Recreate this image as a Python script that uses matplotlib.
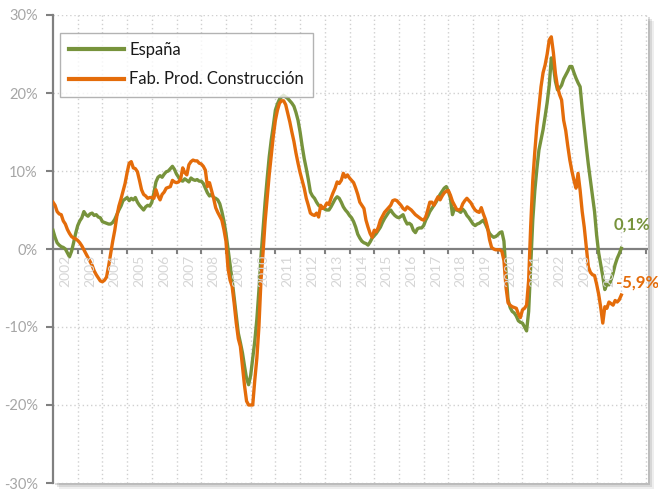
import matplotlib
matplotlib.use('Agg')
import matplotlib.pyplot as plt
import pandas as pd
from matplotlib.patches import Rectangle

# ---------------- data ----------------
months = pd.date_range('2002-01-01', '2025-01-01', freq='MS')

espana = [
    2.4, 1.5, 0.8, 0.5, 0.3, 0.2, 0.0, -0.5, -1.0, -0.3, 0.8, 2.0,          # 2002
    3.0, 3.6, 4.0, 4.8, 4.4, 4.2, 4.5, 4.6, 4.3, 4.4, 4.1, 4.0,             # 2003
    3.5, 3.4, 3.3, 3.2, 3.2, 3.4, 3.8, 4.4, 5.0, 5.5, 6.2, 6.4,             # 2004
    6.6, 6.2, 6.5, 6.3, 6.6, 6.0, 5.6, 5.3, 5.0, 5.4, 5.6, 5.5,             # 2005
    6.0, 7.2, 8.6, 9.2, 9.4, 9.2, 9.6, 9.9, 10.0, 10.3, 10.6, 10.2,         # 2006
    9.6, 9.2, 8.8, 8.7, 9.0, 8.8, 8.6, 9.1, 8.9, 8.8, 8.9, 8.7,             # 2007
    8.7, 8.4, 7.8, 7.2, 6.8, 7.0, 6.6, 6.5, 6.3, 5.8, 4.8, 3.6,             # 2008
    2.0, 0.0, -2.0, -4.0, -6.3, -8.5, -10.8, -12.0, -13.3, -15.0, -16.6, -17.4,  # 2009
    -16.2, -14.0, -11.8, -9.0, -5.3, -1.0, 2.5, 6.0, 9.0, 11.8, 14.0, 15.8,  # 2010
    17.8, 18.6, 19.2, 19.5, 19.7, 19.5, 19.3, 19.0, 18.7, 18.3, 17.5, 16.5,  # 2011
    15.0, 13.2, 11.6, 10.3, 8.9, 7.3, 6.8, 6.5, 6.0, 5.6, 5.4, 5.3,         # 2012
    5.1, 5.0, 5.0, 5.4, 5.9, 6.4, 6.7, 6.5, 6.0, 5.4, 5.0, 4.7,             # 2013
    4.3, 4.0, 3.5, 2.8, 1.9, 1.4, 1.0, 0.8, 0.7, 0.5, 0.9, 1.4,             # 2014
    1.7, 2.0, 2.4, 2.8, 3.4, 3.9, 4.3, 4.7, 5.0, 4.6, 4.3, 4.1,             # 2015
    4.0, 4.2, 4.4, 3.7, 3.2, 3.3, 3.1, 2.4, 2.1, 2.6, 2.7, 2.7,             # 2016
    3.0, 3.7, 4.2, 4.8, 5.2, 5.6, 6.0, 6.5, 7.0, 7.4, 7.8, 8.0,             # 2017
    7.4, 6.5, 4.4, 5.2, 5.0, 4.9, 4.7, 5.1, 4.8, 4.3, 4.0, 3.6,             # 2018
    3.2, 3.0, 3.2, 3.3, 3.5, 3.7, 3.2, 2.6, 2.0, 1.7, 1.5, 1.6,             # 2019
    1.8, 2.1, 2.2, 1.0, -3.1, -6.5, -7.5, -8.0, -8.2, -8.6, -9.2, -9.4,     # 2020
    -9.5, -10.0, -10.5, -8.0, -2.0, 3.7, 7.5, 10.3, 12.7, 14.0, 15.3, 17.0,  # 2021
    18.8, 21.0, 24.5, 23.5, 21.5, 20.4, 20.6, 21.0, 21.8, 22.3, 22.8, 23.4,  # 2022
    23.4, 22.6, 21.9, 21.3, 20.8, 18.0, 15.5, 13.1, 10.8, 8.8, 6.8, 4.8,    # 2023
    1.8, -0.5, -2.0, -3.5, -5.2, -4.5, -4.6, -4.0, -3.1, -2.0, -1.2, -0.6,  # 2024
    0.1,                                                                    # 2025
]

fab_prod = [
    6.0, 5.6, 4.8, 4.5, 4.4, 3.6, 3.2, 2.5, 2.0, 1.6, 1.4, 1.3,             # 2002
    1.1, 0.8, 0.4, -0.1, -0.6, -1.1, -1.6, -2.1, -2.8, -3.3, -3.7, -4.1,    # 2003
    -4.2, -4.0, -3.6, -2.2, -0.6, 1.0, 2.4, 4.2, 5.5, 6.4, 7.4, 8.4,        # 2004
    9.8, 11.0, 11.2, 10.4, 10.3, 9.9, 8.8, 7.6, 7.0, 6.8, 6.5, 6.6,         # 2005
    6.6, 6.5, 7.6, 6.8, 6.3, 7.0, 7.3, 7.8, 7.9, 8.0, 8.8, 8.6,             # 2006
    8.5, 8.6, 9.0, 10.4, 9.8, 9.5, 10.8, 11.2, 11.4, 11.3, 11.3, 11.0,      # 2007
    10.9, 10.6, 10.1, 8.0, 8.5, 7.5, 6.5, 5.3, 4.7, 4.2, 3.7, 2.5,          # 2008
    1.0, -2.5, -4.0, -4.8, -7.0, -9.5, -11.5, -12.5, -15.0, -17.5, -19.5, -20.0,  # 2009
    -20.0, -20.0, -16.8, -14.0, -10.0, -4.0, -0.5, 3.5, 6.5, 9.5, 12.0, 14.5,  # 2010
    16.5, 17.8, 18.7, 19.0, 19.0, 18.5, 17.4, 16.3, 15.0, 13.8, 12.3, 11.0,  # 2011
    9.8, 8.8, 7.8, 6.5, 5.6, 4.6, 4.4, 4.3, 4.6, 4.1, 5.6, 5.2,             # 2012
    5.4, 5.9, 5.7, 6.5, 7.2, 7.8, 8.6, 8.4, 8.8, 9.7, 9.2, 9.5,             # 2013
    9.1, 8.8, 8.5, 7.8, 7.0, 6.0, 5.6, 5.2, 3.7, 2.8, 2.0, 1.5,             # 2014
    2.4, 2.2, 2.8, 3.7, 4.2, 4.7, 5.0, 5.3, 5.6, 6.2, 6.3, 6.2,             # 2015
    5.9, 5.6, 5.2, 5.0, 5.4, 5.2, 5.0, 4.7, 4.4, 4.2, 4.0, 3.8,             # 2016
    3.7, 4.1, 5.0, 6.0, 6.0, 5.6, 6.2, 6.7, 6.3, 6.8, 7.2, 7.4,             # 2017
    7.5, 6.9, 6.1, 5.6, 5.1, 5.0, 5.1, 5.8, 6.2, 6.5, 6.2, 5.9,             # 2018
    5.4, 5.0, 4.8, 4.7, 5.3, 4.5, 3.8, 2.8, 1.2, 0.2, 0.0, -0.1,            # 2019
    -0.1, -0.1, -0.3, -1.5, -4.9, -6.9, -7.2, -7.4, -7.5, -7.6, -8.3, -8.8,  # 2020
    -7.8, -7.6, -7.2, -4.0, 3.0, 8.8, 12.5, 15.8, 18.2, 20.8, 22.6, 23.6,   # 2021
    25.0, 26.8, 27.2, 25.2, 22.5, 20.8, 19.8, 19.1, 16.5, 15.2, 13.2, 11.4,  # 2022
    10.0, 8.8, 7.8, 9.7, 7.5, 4.8, 2.8, 0.3, -2.3, -3.0, -3.3, -3.4,        # 2023
    -4.5, -5.8, -7.5, -9.5, -7.4, -7.6, -6.8, -7.0, -7.2, -6.6, -6.8, -6.5,  # 2024
    -5.9,                                                                   # 2025
]

series_names = ['España', 'Fab. Prod. Construcción']
year_labels = [str(y) for y in range(2002, 2025)]
y_ticks = [-30, -20, -10, 0, 10, 20, 30]
end_label_espana = '0,1%'
end_label_fab = '-5,9%'

# ---------------- style ----------------
GREEN = '#77933C'
ORANGE = '#E46C0A'
AXIS_GREY = '#808080'
GRID_GREY = '#D0D0D0'
TICKLABEL_GREY = '#A6A6A6'
YEARLABEL_GREY = '#D6D6D6'

plt.rcParams['font.family'] = ['Lato', 'DejaVu Sans']

W, H = 658, 490
fig = plt.figure(figsize=(W / 100, H / 100), dpi=100)
fig.patch.set_facecolor('white')

# plot-area shadow
L, R, T, B = 53, 648, 15, 483
for off, a in [(6, 0.10), (4, 0.16), (2, 0.22)]:
    fig.patches.append(Rectangle(((L + off) / W, (H - B - off) / H),
                                 (R - L) / W, (B - T) / H,
                                 transform=fig.transFigure, facecolor='#606060',
                                 alpha=a, edgecolor='none', zorder=-5))

ax = fig.add_axes([L / W, (H - B) / H, (R - L) / W, (B - T) / H])
ax.set_facecolor('white')

x = months.year + (months.month - 1) / 12.0

ax.set_xlim(2002, 2026.08)
ax.set_ylim(-30, 30)

# gridlines
for yv in y_ticks:
    if yv != 0:
        ax.axhline(yv, color=GRID_GREY, lw=1.0, ls=(0, (1, 2)), zorder=1)
year_bounds = list(range(2003, 2027))
for xv in year_bounds:
    ax.axvline(xv, color=GRID_GREY, lw=1.0, ls=(0, (1, 2)), zorder=1)

# zero axis with tick marks
ax.axhline(0, color=AXIS_GREY, lw=1.6, zorder=2)
ax.vlines(year_bounds, -0.6, 0, color=AXIS_GREY, lw=1.5, zorder=2)

# series
ax.plot(x, espana, color=GREEN, lw=2.4, label=series_names[0], zorder=3,
        solid_joinstyle='round')
ax.plot(x, fab_prod, color=ORANGE, lw=2.4, label=series_names[1], zorder=4,
        solid_joinstyle='round')

# year labels (drawn over lines)
for i, lab in enumerate(year_labels):
    ax.text(2002 + i + 0.5, -0.75, lab, rotation=90, ha='center', va='top',
            color=YEARLABEL_GREY, fontsize=10, zorder=6)

# y axis
ax.set_xticks([])
ax.set_yticks(y_ticks)
ax.set_yticklabels([f'{v}%' for v in y_ticks])
ax.tick_params(axis='y', colors=AXIS_GREY, labelcolor=TICKLABEL_GREY,
               labelsize=10.5, length=5, width=1.5, direction='out', pad=6)
for s in ['top', 'right', 'bottom']:
    ax.spines[s].set_visible(False)
ax.spines['left'].set_color(AXIS_GREY)
ax.spines['left'].set_linewidth(1.6)

# end labels
ax.text(2024.68, 3.1, end_label_espana, color=GREEN, fontsize=12,
        fontweight='bold', ha='left', va='center', clip_on=False, zorder=7)
ax.text(2024.8, -4.3, end_label_fab, color=ORANGE, fontsize=12,
        fontweight='bold', ha='left', va='center', clip_on=False, zorder=7)

# legend
leg = ax.legend(loc='upper left', bbox_to_anchor=((60 - L) / (R - L), (B - 33) / (B - T)),
                fontsize=12, frameon=True, fancybox=False, borderaxespad=0,
                handlelength=3.3, handletextpad=0.3, labelspacing=0.8,
                borderpad=0.55)
leg.get_frame().set_edgecolor('#A0A0A0')
leg.get_frame().set_linewidth(1.0)
for t in leg.get_texts():
    t.set_color('#1a1a1a')
for ln in leg.get_lines():
    ln.set_linewidth(3)
leg.set_zorder(10)

fig.savefig('out.png', dpi=100, facecolor='white')
